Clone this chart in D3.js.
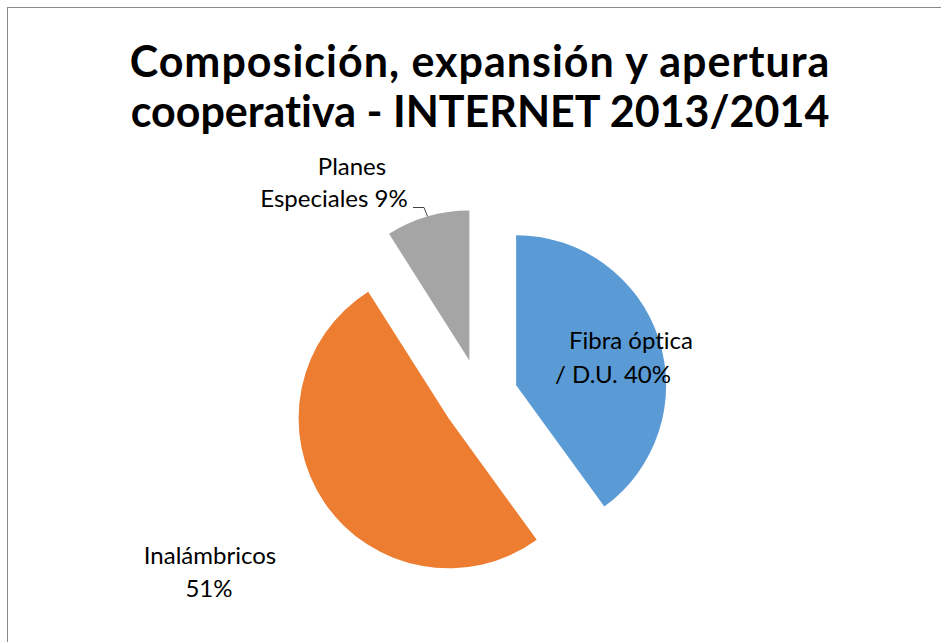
<!DOCTYPE html>
<html>
<head>
<meta charset="utf-8">
<script src="https://cdn.jsdelivr.net/npm/d3@7"></script>
<style>
  html, body { margin: 0; padding: 0; background: #fff; }
  svg { display: block; }
  text { font-variant-ligatures: none; font-feature-settings: "liga" 0, "clig" 0; }
</style>
</head>
<body>
<svg id="chart" width="941" height="642"></svg>
<script>
// ---- data ----
const categories = ["Fibra óptica / D.U.", "Inalámbricos", "Planes Especiales"];
const values = [40, 51, 9];
const colors = ["#5B9BD5", "#ED7D31", "#A5A5A5"];
const labelLines = [
  ["Fibra óptica", "/ D.U. 40%"],
  ["Inalámbricos", "51%"],
  ["Planes", "Especiales 9%"]
];
const titleLines = ["Composición, expansión y apertura", "cooperativa - INTERNET 2013/2014"];

// ---- layout ----
const W = 941, H = 642;
const cx = 480, cy = 397, R = 150, explode = 38;
const labelFont = "Lato, 'Open Sans', sans-serif";
const titleSpacing = [1, 0];

const svg = d3.select("#chart");
svg.append("rect").attr("width", W).attr("height", H).attr("fill", "#fff");
svg.append("rect").attr("x", 7.5).attr("y", 7.5).attr("width", W + 20).attr("height", H + 20)
  .attr("fill", "#fff").attr("stroke", "#898989").attr("stroke-width", 1);

// title
svg.append("g").selectAll("text").data(titleLines).join("text")
  .attr("x", 480).attr("y", (d, i) => 77 + i * 50)
  .attr("text-anchor", "middle")
  .attr("font-family", labelFont).attr("font-weight", "bold")
  .attr("font-size", 43).attr("letter-spacing", (d, i) => titleSpacing[i]).attr("fill", "#000")
  .text(d => d);

// pie
const pie = d3.pie().sort(null).value(d => d).startAngle(0).endAngle(2 * Math.PI);
const arcs = pie(values);
const arc = d3.arc().innerRadius(0).outerRadius(R);

const g = svg.append("g").attr("transform", `translate(${cx},${cy})`);
g.selectAll("path").data(arcs).join("path")
  .attr("d", arc)
  .attr("fill", (d, i) => colors[i])
  .attr("transform", d => {
    const a = (d.startAngle + d.endAngle) / 2;
    return `translate(${explode * Math.sin(a)},${-explode * Math.cos(a)})`;
  });

// labels
const labelPos = [
  [[631, 349], [613, 383]],
  [[210, 564], [209, 597]],
  [[352, 175], [334, 207]]
];
labelLines.forEach((lines, i) => {
  lines.forEach((t, j) => {
    svg.append("text")
      .attr("x", labelPos[i][j][0]).attr("y", labelPos[i][j][1])
      .attr("text-anchor", "middle")
      .attr("font-family", labelFont).attr("font-size", 24).attr("fill", "#000")
      .text(t);
  });
});

// leader line for the small slice (to the middle of its outer arc)
const small = arcs[2];
const sm = (small.startAngle + small.endAngle) / 2;
const ex = cx + (explode + R) * Math.sin(sm);
const ey = cy - (explode + R) * Math.cos(sm);
svg.append("path")
  .attr("d", `M413,207.5 L424,207.5 L${ex},${ey}`)
  .attr("fill", "none").attr("stroke", "#404040").attr("stroke-width", 1);
</script>
</body>
</html>
